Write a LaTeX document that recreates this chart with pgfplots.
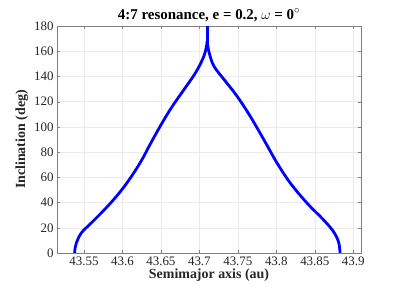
\documentclass[border=0pt]{standalone}
\usepackage{fontspec}
\setmainfont{Liberation Serif}
\usepackage{pgfplots}
\pgfplotsset{compat=1.18}
\begin{document}
\begin{tikzpicture}
\useasboundingbox (-57bp,-37bp) rectangle (342bp,253bp);
\begin{axis}[at={(0,0)}, anchor=south west, scale only axis, width=304bp, height=227bp,
  xmin=43.515, xmax=43.91, ymin=0, ymax=180,
  xtick={43.55,43.6,43.65,43.7,43.75,43.8,43.85,43.9},
  xticklabels={43.55,43.6,43.65,43.7,43.75,43.8,43.85,43.9},
  ytick={0,20,...,180},
  grid=major, grid style={black!8, thin},
  axis line style={black!50}, tick style={black!50}, major tick length=3bp,
  tick align=inside,
  tick label style={font=\fontsize{13}{15}\selectfont, text=black!85},
  label style={font=\fontsize{14}{16}\selectfont\bfseries, text=black!85},
  title style={font=\fontsize{15}{17}\selectfont\bfseries, yshift=-5bp},
  title={4:7 resonance, e = 0.2, {\mdseries$\omega$} = 0$^\circ$},
  xlabel={Semimajor axis (au)}, ylabel={Inclination (deg)},
  xlabel style={yshift=3bp}, ylabel style={yshift=-1bp},
  /pgf/number format/assume math mode=true]
\addplot[blue, line width=2.8pt, line join=round, smooth, tension=0.6] coordinates {
(43.5379,0) (43.5385,4) (43.5401,7.9) (43.5466,15.9) (43.5595,23.8) (43.5767,34.4)
(43.593,45.5) (43.6075,57) (43.6235,72) (43.637,87.3) (43.6505,102) (43.6645,116)
(43.680,129.6) (43.695,142.9) (43.705,154.8) (43.709,163) (43.7100,168)};
\addplot[blue, line width=2.8pt, line join=round, smooth, tension=0.6] coordinates {
(43.7103,168) (43.7115,162) (43.7135,157) (43.719,148) (43.732,137.6) (43.749,124.3)
(43.766,108.5) (43.7836,90) (43.8009,71.4) (43.818,55.6) (43.8397,39.7) (43.861,26.5)
(43.874,17.2) (43.8806,9.3) (43.8822,4) (43.8828,0)};
\addplot[blue, line width=2.8pt] coordinates {(43.7101,167) (43.7101,180)};
\end{axis}
\end{tikzpicture}
\end{document}
